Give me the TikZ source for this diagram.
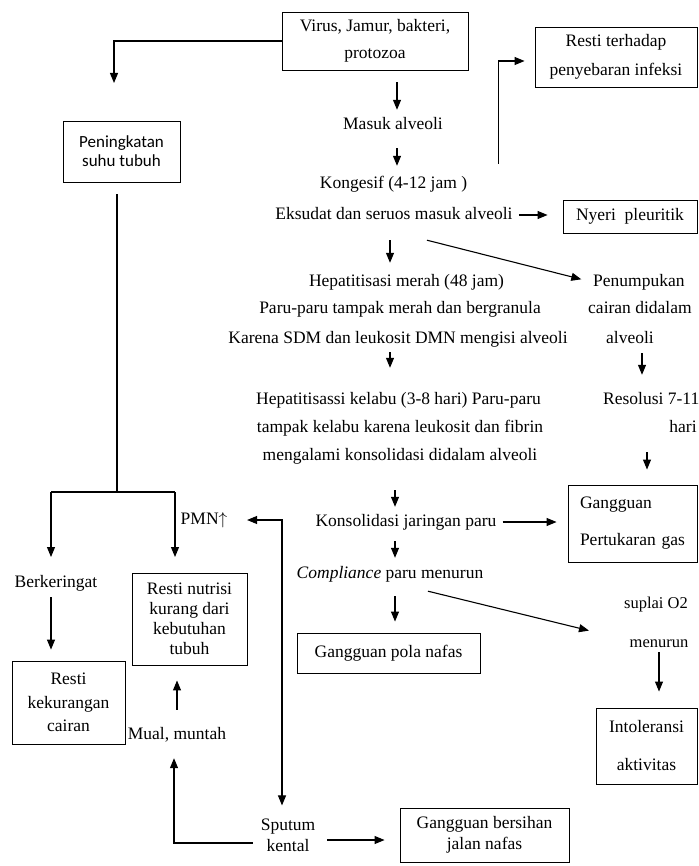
\documentclass[tikz,border=0pt]{standalone}
\usepackage{fontspec}
\setmainfont{Liberation Serif}
\newfontfamily\sansf{Carlito}
\usetikzlibrary{arrows.meta,calc}
\newcommand\fsz[1]{\fontsize{17.5}{#1}\selectfont}
\tikzset{
  lbl/.style={font=\fsz{20}, inner sep=1pt, text height=11.5pt, text depth=3.3pt},
  mlbl/.style={font=\fsz{21}, inner sep=1pt, align=center},
  box/.style={draw, line width=0.9pt, align=center, inner sep=3pt, font=\fsz{20}},
  arr/.style={line width=1.1pt, -{Triangle[length=10pt,width=8pt]}},
  dbl/.style={line width=1.1pt, {Triangle[length=10pt,width=8pt]}-{Triangle[length=10pt,width=8pt]}},
  ln/.style={line width=1.1pt},
}
\begin{document}
\begin{tikzpicture}[x=1pt,y=-1pt]
\useasboundingbox (0,0) rectangle (698,866);
% nodes
\node[box, minimum width=186pt, minimum height=58pt, font=\fsz{27}] (virus) at (375,41) {Virus, Jamur, bakteri,\\protozoa};
\node[box, minimum width=162pt, minimum height=60pt, font=\fsz{29}] (resti1) at (616,57) {Resti terhadap\\penyebaran infeksi};
\node[box, minimum width=117pt, minimum height=61pt, font=\sansf\fontsize{17}{19}\selectfont] (pening) at (121.5,151.5) {Peningkatan\\suhu tubuh};
\node[lbl] (masuk) at (393,125) {Masuk alveoli};
\node[lbl] (kong) at (393.5,184) {Kongesif (4-12 jam )};
\node[lbl] (eks) at (394,215) {Eksudat dan seruos masuk alveoli};
\node[box, minimum width=134pt, minimum height=33pt] (nyeri) at (630,216.5) {Nyeri\ \ pleuritik};
\node[lbl] (hep1) at (406.5,282) {Hepatitisasi merah (48 jam)};
\node[lbl] (hep2) at (400,309) {Paru-paru tampak merah dan bergranula};
\node[lbl] (hep3) at (398,339) {Karena SDM dan leukosit DMN mengisi alveoli};
\node[lbl, anchor=west] (pen1) at (592,282) {Penumpukan};
\node[lbl, anchor=west] (pen2) at (587,309) {cairan didalam};
\node[lbl] (pen3) at (630,339) {alveoli};
\node[lbl, anchor=west] (res1) at (602,400) {Resolusi 7-11};
\node[lbl] (res2) at (683,428) {hari};
\node[lbl] (kel1) at (398.5,400) {Hepatitisassi kelabu (3-8 hari) Paru-paru};
\node[lbl] (kel2) at (400,428) {tampak kelabu karena leukosit dan fibrin};
\node[lbl] (kel3) at (400,456) {mengalami konsolidasi didalam alveoli};
\node[box, minimum height=77pt, text width=105pt, inner xsep=12pt, align=left, font=\fsz{37}] (gang) at (632.5,523.5) {Gangguan\\Pertukaran gas};
\node[lbl] (kons) at (406,522) {Konsolidasi jaringan paru};
\node[lbl] (comp) at (390,574) {\textit{Compliance} paru menurun};
\node[box, minimum width=183pt, minimum height=40pt] (pola) at (388.5,653) {Gangguan pola nafas};
\node[lbl, font=\fontsize{16.5}{20}\selectfont] (sup1) at (656,604) {suplai O2};
\node[lbl, font=\fontsize{16.5}{20}\selectfont] (sup2) at (659,643) {menurun};
\node[box, minimum width=101pt, minimum height=76pt, font=\fsz{38}] (intol) at (646.5,746) {Intoleransi\\aktivitas};
\node[lbl] (pmn) at (204,520) {PMN$\uparrow$};
\node[lbl] (berk) at (56,583) {Berkeringat};
\node[box, minimum width=115pt, minimum height=92pt, font=\fsz{20}] (nut) at (189.5,619) {Resti nutrisi\\kurang dari\\kebutuhan\\tubuh};
\node[box, minimum width=113pt, minimum height=83pt, font=\fsz{23.5}] (kek) at (68.5,702.5) {Resti\\kekurangan\\cairan};
\node[lbl] (mual) at (177,735) {Mual, muntah};
\node[mlbl] (sput) at (288,835) {Sputum\\kental};
\node[box, minimum width=169pt, minimum height=54pt, font=\fsz{21}] (bers) at (484.5,835) {Gangguan bersihan\\jalan nafas};
% helper coordinates
\coordinate (tipP) at (114,83);
\coordinate (br) at (117,492);
\coordinate (tipL) at (51,557);
\coordinate (tipR) at (175,557);
\coordinate (colA) at (390,0);
\coordinate (colB) at (395,0);
\coordinate (colC) at (397,0);
\coordinate (colD) at (642,0);
\coordinate (colE) at (647,0);
\coordinate (colF) at (659,0);
% connectors
\draw[arr] (virus.west) -| (tipP);
\draw[ln] ([xshift=-4.5pt,yshift=-12pt]pening.south) -- (br);
\draw[ln] (tipL |- br) -- (tipR |- br);
\draw[arr] (tipL |- br) -- (tipL);
\draw[arr] (tipR |- br) -- (tipR);
\draw[arr, shorten <=12pt, shorten >=6.6pt] (virus.south -| colC) -- (masuk.north -| colC);
\draw[arr, shorten <=14.6pt, shorten >=9.6pt] (masuk.south -| colC) -- (kong.north -| colC);
\draw[arr, shorten <=16.6pt, shorten >=10.6pt] (eks.south -| colA) -- (hep1.north -| colA);
\draw[arr, shorten <=4.6pt, shorten >=23.6pt] (hep3.south -| colA) -- (kel1.north -| colA);
\draw[arr, shorten <=25.6pt, shorten >=6.6pt] (kel3.south -| colB) -- (kons.north -| colB);
\draw[arr, shorten <=10.6pt, shorten >=7.6pt] (kons.south -| colB) -- (comp.north -| colB);
\draw[arr, shorten <=13.6pt, shorten >=11pt] (comp.south -| colB) -- (pola.north -| colB);
\draw[arr, shorten <=5.6pt, shorten >=16.6pt] (pen3.south -| colD) -- (res1.north -| colD);
\draw[arr, shorten <=15.6pt, shorten >=15pt] (res2.south -| colE) -- (gang.north -| colE);
\draw[arr, shorten <=0.6pt, shorten >=16pt] (sup2.south -| colF) -- (intol.north -| colF);
\draw[arr, shorten <=5pt, shorten >=11pt] (kons.east) -- (kons.east -| gang.west);
\draw[arr, shorten <=5pt, shorten >=15pt] (eks.east) -- (eks.east -| nyeri.west);
\draw[arr, shorten >=10pt] ([xshift=30pt,yshift=11.6pt]kong.north east) |- ([yshift=-4pt]resti1.west);
\draw[arr, shorten >=11pt] ([xshift=33pt,yshift=-16.6pt]eks.south) -- (pen1.west);
\draw[arr] ([xshift=38pt,yshift=-8.6pt]comp.south) -- ([xshift=-67pt,yshift=-18pt]sup1.south);
\draw[arr, shorten <=5.6pt, shorten >=11pt] (berk.south -| tipL) -- (kek.north -| tipL);
\draw[arr, shorten <=16.6pt, shorten >=15pt] (mual.north) -- (mual.north |- nut.south);
\draw[arr, shorten >=14.6pt] ([xshift=-7pt,yshift=-8pt]sput.west) -| ([xshift=-3pt]mual.south);
\draw[arr, shorten <=11pt, shorten >=15pt] ([yshift=-5pt]sput.east) -- ([yshift=-5pt]sput.east -| bers.west);
\draw[dbl, shorten <=18.6pt, shorten >=12pt] (pmn.east) -| ([xshift=-6pt]sput.north);
\end{tikzpicture}
\end{document}
